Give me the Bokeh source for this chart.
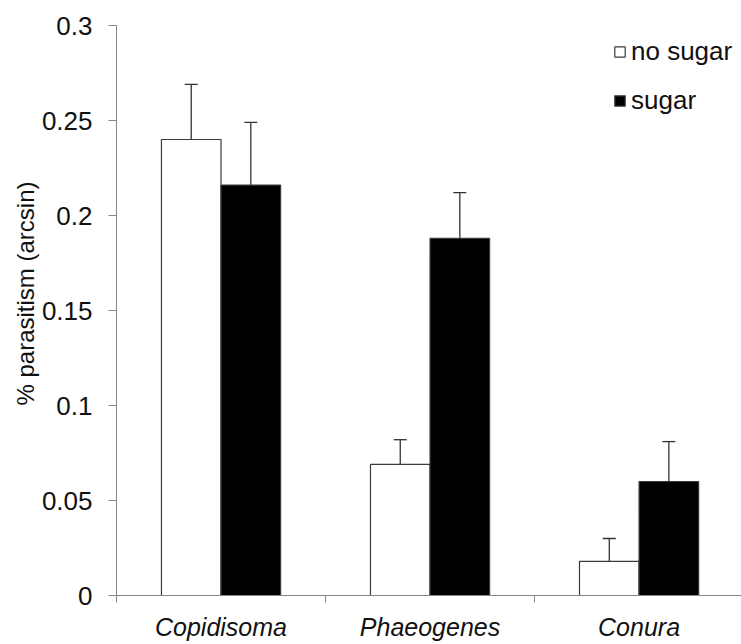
import math
from bokeh.plotting import figure
from bokeh.models import (Range1d, FixedTicker, Whisker, ColumnDataSource, Legend,
                          LegendItem, Title, TeeHead)
from bokeh.embed import file_html
from bokeh.resources import INLINE

categories = ["Copidisoma", "Phaeogenes", "Conura"]
no_sugar = [0.240, 0.069, 0.018]
no_sugar_err = [0.029, 0.013, 0.012]
sugar = [0.216, 0.188, 0.060]
sugar_err = [0.033, 0.024, 0.021]
y_ticks = [0, 0.05, 0.1, 0.15, 0.2, 0.25, 0.3]
y_tick_labels = ["0", "0.05", "0.1", "0.15", "0.2", "0.25", "0.3"]
y_title = "% parasitism (arcsin)"
series_names = ["no sugar", "sugar"]

FONT = "Liberation Sans"
AXIS_COL = "#868686"
BAR_W = 0.285

centers = [i + 0.5 for i in range(len(categories))]
x_ns = [c - BAR_W / 2 for c in centers]
x_s = [c + BAR_W / 2 for c in centers]

p = figure(width=741, height=644, output_backend="svg", toolbar_location=None,
           x_range=Range1d(0, 2.99), y_range=Range1d(0, 0.3),
           min_border_left=116, min_border_right=0, min_border_top=25,
           min_border_bottom=49)
p.outline_line_color = None
p.grid.grid_line_color = None
p.background_fill_color = "white"
p.border_fill_color = "white"

src_ns = ColumnDataSource(dict(x=x_ns, top=no_sugar,
                               upper=[v + e for v, e in zip(no_sugar, no_sugar_err)]))
src_s = ColumnDataSource(dict(x=x_s, top=sugar,
                              upper=[v + e for v, e in zip(sugar, sugar_err)]))

r_ns = p.vbar(x="x", top="top", bottom=0, width=BAR_W, source=src_ns,
              fill_color="white", line_color="#3a3a3a", line_width=1.2)
r_s = p.vbar(x="x", top="top", bottom=0, width=BAR_W, source=src_s,
             fill_color="black", line_color="#3a3a3a", line_width=1.2)

for src in (src_ns, src_s):
    w = Whisker(base="x", lower="top", upper="upper", source=src,
                line_color="#333333", line_width=1.3,
                upper_head=TeeHead(size=13, line_color="#333333", line_width=1.3),
                lower_head=None)
    p.add_layout(w)

# y axis
yax = p.yaxis[0]
yax.ticker = FixedTicker(ticks=y_ticks, minor_ticks=[])
yax.major_label_overrides = {t: l for t, l in zip(y_ticks, y_tick_labels)}
yax.axis_line_color = AXIS_COL
yax.major_tick_line_color = AXIS_COL
yax.major_tick_out = 8
yax.major_tick_in = 0
yax.minor_tick_out = 0
yax.minor_tick_in = 0
yax.major_label_text_font = FONT
yax.major_label_text_font_size = "26px"
yax.major_label_text_color = "#111111"
yax.major_label_standoff = 16

# x axis
xax = p.xaxis[0]
xax.ticker = FixedTicker(ticks=centers, minor_ticks=[0, 1, 2, 3])
xax.major_label_overrides = {c: n for c, n in zip(centers, categories)}
xax.axis_line_color = AXIS_COL
xax.major_tick_out = 0
xax.major_tick_in = 0
xax.major_tick_line_color = None
xax.minor_tick_line_color = AXIS_COL
xax.minor_tick_out = 7
xax.minor_tick_in = 0
xax.major_label_text_font = FONT
xax.major_label_text_font_size = "25px"
xax.major_label_text_font_style = "italic"
xax.major_label_text_color = "#111111"
xax.major_label_standoff = 10

# y title
ttl = Title(text=y_title, align="left", offset=190, text_font=FONT,
            text_font_size="24px", text_font_style="normal", text_color="#111111",
            standoff=0)
p.add_layout(ttl, "left")

legend = Legend(items=[LegendItem(label=series_names[0], renderers=[r_ns]),
                       LegendItem(label=series_names[1], renderers=[r_s])],
                location=(497, 479), padding=0, margin=0, border_line_color=None,
                background_fill_alpha=0, glyph_width=13, glyph_height=13,
                label_standoff=5, spacing=18, label_height=26,
                label_text_font=FONT, label_text_font_size="26px",
                label_text_color="#111111")
p.add_layout(legend)

open("out.html", "w").write(file_html(p, INLINE))
